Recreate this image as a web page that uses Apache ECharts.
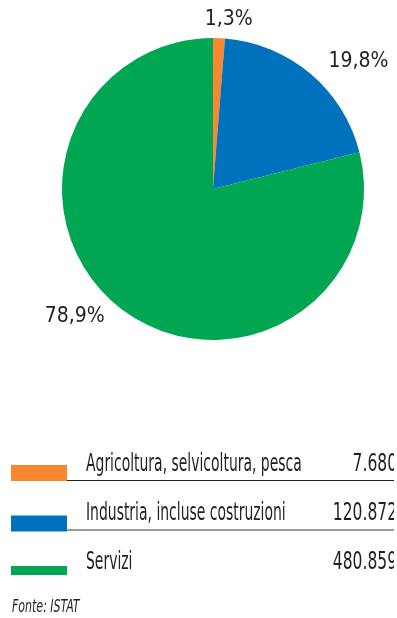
<!DOCTYPE html>
<html>
<head>
<meta charset="utf-8">
<script src="https://cdn.jsdelivr.net/npm/echarts@6/dist/echarts.min.js"></script>
<style>
  html, body { margin: 0; padding: 0; background: #fff; }
  #chart { width: 394px; height: 618px; overflow: hidden; }
</style>
</head>
<body>
<div id="chart"></div>
<script>
// Occupati per settore di attività economica
const categories = ['Agricoltura, selvicoltura, pesca', 'Industria, incluse costruzioni', 'Servizi'];
const values = [7680, 120872, 480859];
const colors = ['#F7882F', '#0071BC', '#00A651'];
const sourceNote = 'Fonte: ISTAT';

const FONT = "'DejaVu Sans Condensed', 'Liberation Sans', sans-serif";
const INK = '#231F20';

const total = values.reduce((a, b) => a + b, 0);
const fmtPct = v => (v / total * 100).toFixed(1).replace('.', ',') + '%';
const fmtNum = v => String(v).replace(/\B(?=(\d{3})+(?!\d))/g, '.');

// Legend table below the pie: colour swatch, label, value, rule
const rowTop = 465, rowStep = 50.5, textStep = 49.3;
const swatchH = [16, 16, 9];
const graphic = [];
categories.forEach((name, i) => {
  const textY = 464 + i * textStep;
  graphic.push({
    type: 'rect', silent: true,
    shape: { x: 11, y: rowTop + i * rowStep, width: 56, height: swatchH[i] },
    style: { fill: colors[i] }
  });
  graphic.push({
    type: 'text', silent: true, x: 86, y: textY, scaleX: 0.62,
    style: { x: 0, y: 0, text: name, fill: INK, font: '25px ' + FONT, align: 'left', verticalAlign: 'middle' }
  });
  graphic.push({
    type: 'text', silent: true, x: 397, y: textY, scaleX: 0.69,
    style: { x: 0, y: 0, text: fmtNum(values[i]), fill: INK, font: '25px ' + FONT, align: 'right', verticalAlign: 'middle' }
  });
});
graphic.push({
  type: 'line', silent: true,
  shape: { x1: 67, y1: 480.5, x2: 397, y2: 480.5 },
  style: { stroke: '#222', lineWidth: 1 }
});
graphic.push({
  type: 'line', silent: true,
  shape: { x1: 67, y1: 530, x2: 397, y2: 530 },
  style: { stroke: '#7a7a7a', lineWidth: 1.3 }
});
graphic.push({
  type: 'text', silent: true, x: 12, y: 608, scaleX: 0.72,
  style: { x: 0, y: 0, text: sourceNote, fill: INK, font: 'italic 17px ' + FONT, align: 'left', verticalAlign: 'middle' }
});

const labelShift = [{ dx: -20, dy: 1 }, { dx: 0, dy: 3 }, { dx: 2, dy: -7 }];

const chart = echarts.init(document.getElementById('chart'), null, { renderer: 'canvas' });
chart.setOption({
  animation: false,
  backgroundColor: '#fff',
  graphic: graphic,
  series: [{
    type: 'pie',
    center: [213, 189],
    radius: 151,
    startAngle: 90,
    clockwise: true,
    avoidLabelOverlap: false,
    emphasis: { disabled: true },
    itemStyle: { borderWidth: 0 },
    data: categories.map((name, i) => ({ name: name, value: values[i], itemStyle: { color: colors[i] } })),
    label: {
      show: true,
      position: 'outside',
      formatter: p => fmtPct(p.value),
      fontFamily: FONT,
      fontSize: 21,
      color: INK
    },
    labelLine: { show: false, length: 20, length2: 0 },
    labelLayout: p => labelShift[p.dataIndex]
  }]
});
</script>
</body>
</html>
